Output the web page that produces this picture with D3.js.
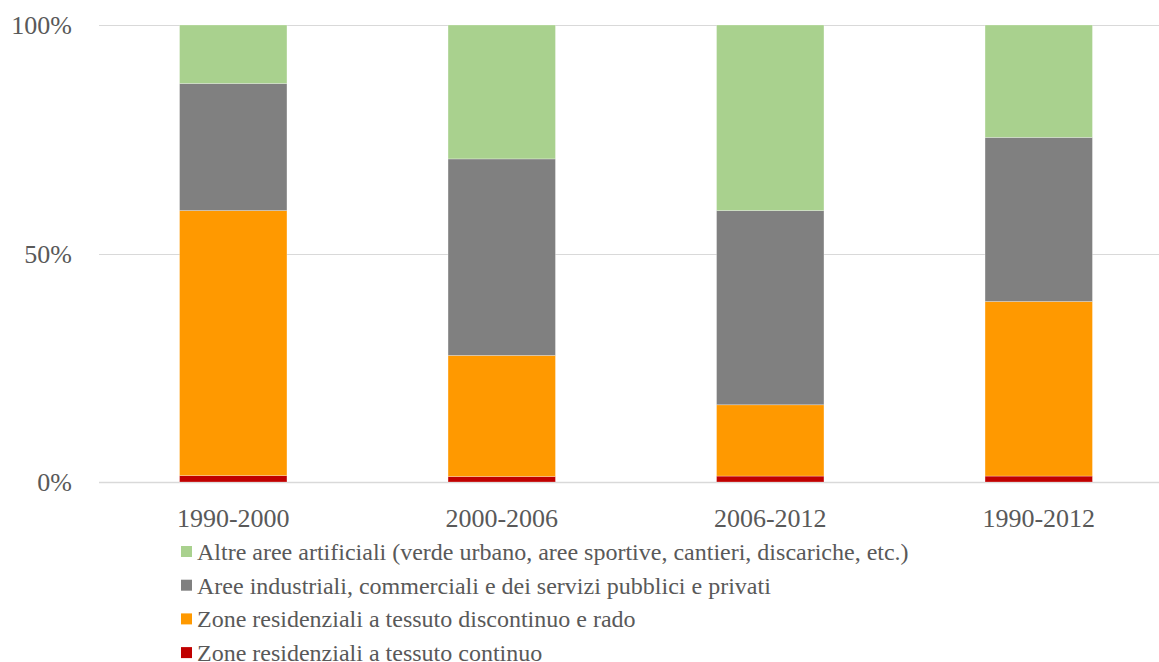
<!DOCTYPE html>
<html>
<head>
<meta charset="utf-8">
<script src="https://cdn.jsdelivr.net/npm/d3@7/dist/d3.min.js"></script>
<style>
  html, body { margin: 0; padding: 0; background: #fff; }
  svg { display: block; font-family: "Liberation Serif", "Times New Roman", serif; }
</style>
</head>
<body>
<svg id="chart" width="1159" height="662"></svg>
<script>
// Periods on the x axis
const periods = ["1990-2000", "2000-2006", "2006-2012", "1990-2012"];

// Share (%) of each land-cover class in the new artificial surfaces per period
const continuo    = [1.4, 1.2, 1.3, 1.3];
const discontinuo = [58.0, 26.5, 15.6, 38.2];
const industriali = [27.8, 43.0, 42.5, 35.9];
const altre       = [12.8, 29.3, 40.6, 24.6];

const yTicks = [0, 50, 100];

const seriesNames = [
  "Zone residenziali a tessuto continuo",
  "Zone residenziali a tessuto discontinuo e rado",
  "Aree industriali, commerciali e dei servizi pubblici e privati",
  "Altre aree artificiali (verde urbano, aree sportive, cantieri, discariche, etc.)"
];
const seriesColors = ["#c00000", "#ff9900", "#808080", "#a9d18e"];
const seriesValues = [continuo, discontinuo, industriali, altre];

const rows = periods.map((p, i) => {
  const r = { period: p };
  seriesNames.forEach((s, k) => { r[s] = seriesValues[k][i]; });
  return r;
});

const svg = d3.select("#chart");

const x = d3.scaleBand()
  .domain(periods)
  .range([99, 1173])
  .paddingInner(0.6)
  .paddingOuter(0.3);

const y = d3.scaleLinear()
  .domain([0, 100])
  .range([482, 25]);

const textColor = "#595959";

// Horizontal gridlines
svg.append("g")
  .selectAll("line")
  .data(yTicks)
  .join("line")
  .attr("x1", 99)
  .attr("x2", 1159)
  .attr("y1", d => Math.round(y(d)) + 0.5)
  .attr("y2", d => Math.round(y(d)) + 0.5)
  .attr("stroke", "#d9d9d9")
  .attr("stroke-width", d => d === 0 ? 1.5 : 1);

// Y tick labels
svg.append("g")
  .selectAll("text")
  .data(yTicks)
  .join("text")
  .attr("x", 72)
  .attr("y", d => y(d))
  .attr("dy", "0.35em")
  .attr("text-anchor", "end")
  .attr("font-size", 26)
  .attr("fill", textColor)
  .text(d => d + "%");

// Stacked bars
const stack = d3.stack().keys(seriesNames);
const stacked = stack(rows);

svg.append("g")
  .selectAll("g")
  .data(stacked)
  .join("g")
  .attr("fill", (d, i) => seriesColors[i])
  .selectAll("rect")
  .data(d => d)
  .join("rect")
  .attr("x", d => x(d.data.period))
  .attr("width", x.bandwidth())
  .attr("y", d => y(d[1]))
  .attr("height", d => y(d[0]) - y(d[1]))
  .attr("stroke", "rgba(255,255,255,0.35)")
  .attr("stroke-width", 0.75);

// Category labels
svg.append("g")
  .selectAll("text")
  .data(periods)
  .join("text")
  .attr("x", d => x(d) + x.bandwidth() / 2)
  .attr("y", 527)
  .attr("text-anchor", "middle")
  .attr("font-size", 26)
  .attr("fill", textColor)
  .text(d => d);

// Legend (top entry is the top of the stack)
const legendOrder = seriesNames.map((s, i) => ({ name: s, color: seriesColors[i] })).reverse();
const legend = svg.append("g")
  .selectAll("g")
  .data(legendOrder)
  .join("g")
  .attr("transform", (d, i) => `translate(181, ${552 + i * 33.7})`);

legend.append("rect")
  .attr("x", 0)
  .attr("y", -6)
  .attr("width", 11)
  .attr("height", 11)
  .attr("fill", d => d.color);

legend.append("text")
  .attr("x", 16)
  .attr("y", 0)
  .attr("dy", "0.33em")
  .attr("font-size", 24)
  .attr("fill", textColor)
  .text(d => d.name);
</script>
</body>
</html>
